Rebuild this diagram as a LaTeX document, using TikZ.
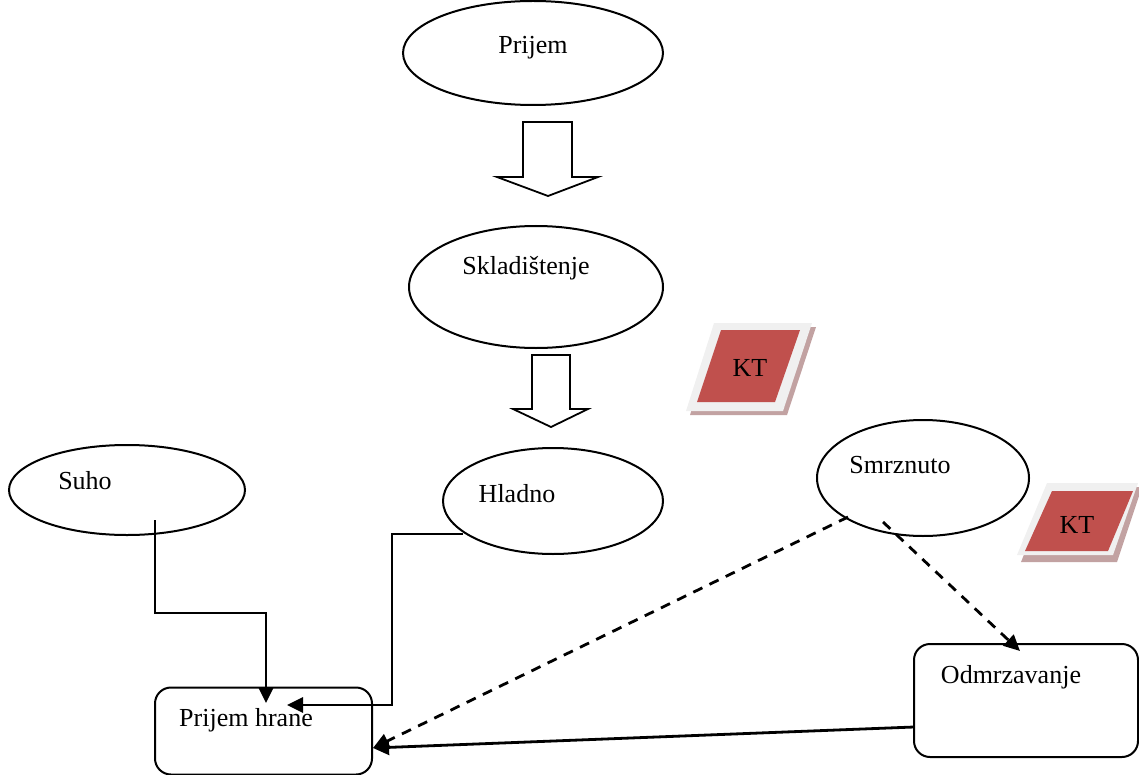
\documentclass[tikz,border=0pt]{standalone}
\usepackage{fontspec}
\setmainfont{Liberation Serif}
\usetikzlibrary{shapes.geometric,arrows.meta}
\definecolor{ktred}{HTML}{C0504D}
\definecolor{ktband}{HTML}{F0F0F0}
\definecolor{ktshadow}{HTML}{C2A2A2}
\tikzset{
  ell/.style={draw,line width=1pt,ellipse,inner sep=0pt},
  lbl/.style={inner sep=0pt,font=\fontsize{13}{15}\selectfont},
  ktlbl/.style={inner sep=0pt,font=\fontsize{13}{15}\selectfont},
  rbox/.style={draw,line width=1pt,rounded corners=8pt,inner sep=0pt},
  hollow/.style={draw,line width=0.9pt,fill=white,line join=miter},
  conn/.style={line width=1.4pt,-{Triangle[length=8pt,width=7.5pt]}},
  dconn/.style={conn,dash pattern=on 5pt off 4pt}
}
\begin{document}
\begin{tikzpicture}[x=0.5pt,y=-0.5pt]
\useasboundingbox (0,0) rectangle (1139,775);
% ellipses
\node[ell,minimum width=130pt,minimum height=52pt] (prijem) at (533,53) {};
\node[lbl] (prijemT) at (533,48) {Prijem};
\node[ell,minimum width=127pt,minimum height=61pt] (sklad) at (536,287) {};
\node[lbl] (skladT) at (526,268) {Skladištenje};
\node[ell,minimum width=118pt,minimum height=45pt] (suho) at (127,490) {};
\node[lbl] (suhoT) at (85,481) {Suho};
\node[ell,minimum width=110pt,minimum height=53pt] (hladno) at (553,501) {};
\node[lbl] (hladnoT) at (517,494) {Hladno};
\node[ell,minimum width=106pt,minimum height=58pt] (smrz) at (923,478) {};
\node[lbl] (smrzT) at (900,465) {Smrznuto};
% boxes
\node[rbox,minimum width=108.5pt,minimum height=43.5pt] (hrana) at (263.5,731) {};
\node[lbl] (hranaT) at (246,720) {Prijem hrane};
\node[rbox,minimum width=112pt,minimum height=56.5pt] (odmrz) at (1026,700.5) {};
\node[lbl] (odmrzT) at (1011,677) {Odmrzavanje};
% hollow block arrows
\draw[hollow] (523,122) -- (572,122) -- (572,177) -- (598,177) -- (548,196) -- (497,177) -- (523,177) -- cycle;
\draw[hollow] (532,355) -- (570,355) -- (570,409) -- (588,409) -- (551,427) -- (513,409) -- (532,409) -- cycle;
% KT 1
\fill[ktshadow] (718,327) -- (816,327) -- (787,415) -- (690,415) -- cycle;
\fill[ktband] (714,323) -- (812,323) -- (783,411) -- (686,411) -- cycle;
\fill[ktred] (721,330) -- (800,330) -- (775,402) -- (697,402) -- cycle;
\node[ktlbl] (kt1) at (750,368) {KT};
% KT 2
\fill[ktshadow] (1051,487) -- (1142,487) -- (1117,562) -- (1021,562) -- cycle;
\fill[ktband] (1047,483) -- (1138,483) -- (1113,555) -- (1017,555) -- cycle;
\fill[ktred] (1052,491) -- (1133,491) -- (1108,551) -- (1025,551) -- cycle;
\node[ktlbl] (kt2) at (1077,525) {KT};
% connector coordinates
\coordinate (suhoS) at (155,520);
\coordinate (suhoB1) at (155,613);
\coordinate (suhoB2) at (266,613);
\coordinate (suhoE) at (266,703);
\coordinate (hladS) at (463,534);
\coordinate (hladB1) at (392,534);
\coordinate (hladB2) at (392,705);
\coordinate (hladE) at (287,705);
\coordinate (smrzS1) at (848,517);
\coordinate (smrzS2) at (883,522);
\coordinate (hranaE) at (373,748);
\coordinate (odmrzE) at (1020,651);
\coordinate (odmrzS) at (914,727);
\draw[conn] (suhoS) -- (suhoB1) -- (suhoB2) -- (suhoE);
\draw[conn] (hladS) -- (hladB1) -- (hladB2) -- (hladE);
\draw[dconn] (smrzS1) -- (hranaE);
\draw[dconn] (smrzS2) -- (odmrzE);
\draw[conn] (odmrzS) -- (hranaE);
\end{tikzpicture}
\end{document}
